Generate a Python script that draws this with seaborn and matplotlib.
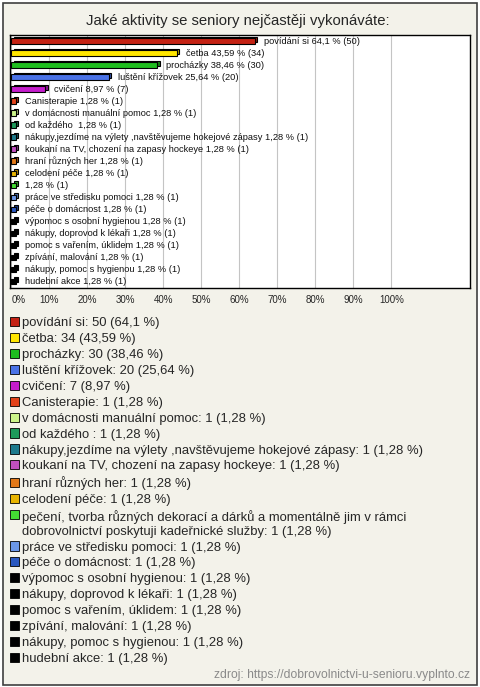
import matplotlib
matplotlib.use('Agg')
import matplotlib.pyplot as plt
import matplotlib.patheffects as pe
from matplotlib.colors import to_rgb
from matplotlib.patches import Patch, Rectangle
import pandas as pd
import seaborn as sns

title = 'Jaké aktivity se seniory nejčastěji vykonáváte:'
source = 'zdroj: https://dobrovolnictvi-u-senioru.vyplnto.cz'

activities = [
    'povídání si',
    'četba',
    'procházky',
    'luštění křížovek',
    'cvičení',
    'Canisterapie',
    'v domácnosti manuální pomoc',
    'od každého ',
    'nákupy,jezdíme na výlety ,navštěvujeme hokejové zápasy',
    'koukaní na TV, chození na zapasy hockeye',
    'hraní různých her',
    'celodení péče',
    'pečení, tvorba různých dekorací a dárků a momentálně jim v rámci\n'
    'dobrovolnictví poskytuji kadeřnické služby',
    'práce ve středisku pomoci',
    'péče o domácnost',
    'výpomoc s osobní hygienou',
    'nákupy, doprovod k lékaři',
    'pomoc s vařením, úklidem',
    'zpívání, malování',
    'nákupy, pomoc s hygienou',
    'hudební akce',
]
counts = [50, 34, 30, 20, 7, 1, 1, 1, 1, 1, 1, 1, 1, 1, 1, 1, 1, 1, 1, 1, 1]
percents = [64.1, 43.59, 38.46, 25.64, 8.97, 1.28, 1.28, 1.28, 1.28, 1.28, 1.28,
            1.28, 1.28, 1.28, 1.28, 1.28, 1.28, 1.28, 1.28, 1.28, 1.28]
colors = ['#C42214', '#FFE600', '#1EBE1E', '#4A72E6', '#C41CCC', '#E2421A',
          '#CCF58A', '#1E9A5A', '#1E7A8C', '#C050C0', '#E27818', '#E8B400',
          '#44DD33', '#6A96E8', '#2A58C0', '#000000', '#000000', '#000000',
          '#000000', '#000000', '#000000']
# long answer is not repeated next to its bar
bar_names = [a if '\n' not in a else '' for a in activities]

x_ticks = [0, 10, 20, 30, 40, 50, 60, 70, 80, 90, 100]


def fmt(p):
    return f'{p:g}'.replace('.', ',')


sns.set_style('white')
plt.rcParams['font.family'] = ['Liberation Sans', 'DejaVu Sans']

df = pd.DataFrame({'activity': activities, 'percent': percents})

fig = plt.figure(figsize=(4.8, 6.87), dpi=100, facecolor='white')
fig.patches.append(Rectangle((3 / 480, 2 / 687), 474 / 480, 682 / 687,
                             transform=fig.transFigure, facecolor='#F3F2EA',
                             edgecolor='#404040', lw=1.2, zorder=-5))

ax = fig.add_axes([10 / 480, 1 - 288 / 687, 460 / 480, 253 / 687])
sns.barplot(data=df, x='percent', y='activity', hue='activity', palette=colors,
            legend=False, orient='h', width=0.42, edgecolor='black',
            linewidth=0.8, saturation=1, ax=ax)

for bar, c in zip(ax.patches, colors):
    dark = tuple(v * 0.7 for v in to_rgb(c))
    bar.set_path_effects([pe.PathPatchEffect(offset=(1.6, 1.4), facecolor=dark,
                                             edgecolor='black', linewidth=0.8),
                          pe.Normal()])

for cont, name, p, n in zip(ax.containers, bar_names, percents, counts):
    lab = f'{name} {fmt(p)} % ({n})'.lstrip()
    ax.bar_label(cont, labels=[lab], padding=6.5, fontsize=6.7, color='#111111')

ax.set_xlim(-0.34, 120.7)
ax.set_ylim(20.58, -0.5)
ax.set_xticks(x_ticks)
ax.set_xticklabels([f'{t}%' for t in x_ticks], fontsize=7)
ax.get_xticklabels()[0].set_ha('left')
ax.set_yticks([])
ax.set_xlabel('')
ax.set_ylabel('')
ax.tick_params(axis='x', length=0, pad=5)
ax.grid(axis='x', color='#C4C4C4', lw=0.8)
ax.set_axisbelow(True)
for s in ax.spines.values():
    s.set_color('black')
    s.set_linewidth(1.0)

fig.text(237.5 / 480, 1 - 21 / 687, title, ha='center', va='center', fontsize=10.7)

handles = [Patch(facecolor=c, edgecolor='black', lw=0.6) for c in colors]
labels = [f'{a}: {n} ({fmt(p)} %)' for a, n, p in zip(activities, counts, percents)]
leg = fig.legend(handles, labels, loc='upper left',
                 bbox_to_anchor=(10 / 480, 1 - 317 / 687),
                 frameon=False, fontsize=9.4, handlelength=0.7, handleheight=0.7,
                 handletextpad=0.2, labelspacing=0.29, borderpad=0, borderaxespad=0)

# put the square of the two-line entry on its first line
for col in leg._legend_handle_box.get_children():
    for row in col.get_children():
        txt = row.get_children()[1]
        if '\n' in txt.get_text():
            row.align = 'top'

fig.text(470 / 480, 1 - 675 / 687, source, ha='right', va='center',
         fontsize=8.7, color='#8A8A8A')

fig.savefig('out.png', dpi=100, facecolor=fig.get_facecolor())
